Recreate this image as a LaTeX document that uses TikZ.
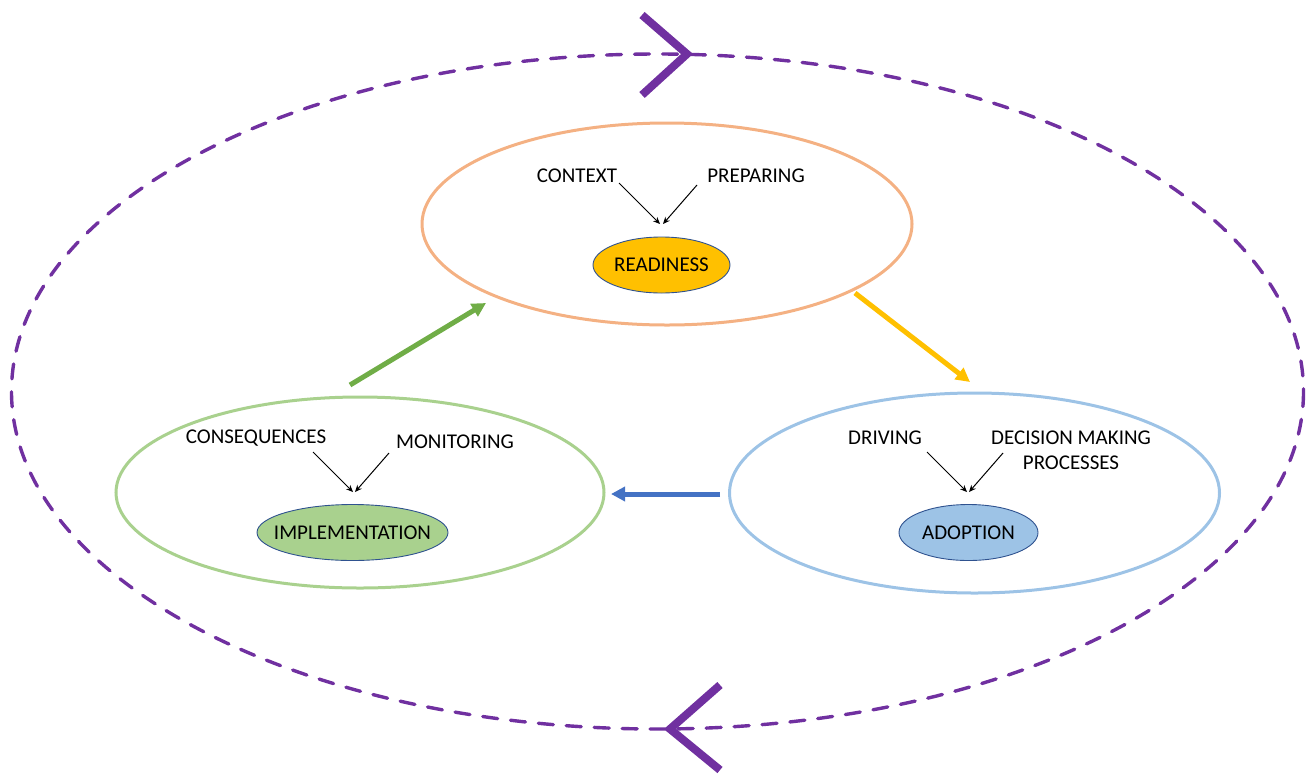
\documentclass[tikz,border=0pt]{standalone}
\usepackage{fontspec}
\setmainfont{Carlito}
\usetikzlibrary{shapes.geometric,arrows.meta}
\definecolor{cyclepurple}{HTML}{7030A0}
\definecolor{peach}{HTML}{F4B183}
\definecolor{leaf}{HTML}{A9D18E}
\definecolor{sky}{HTML}{9DC3E6}
\definecolor{gold}{HTML}{FFC000}
\definecolor{grass}{HTML}{70AD47}
\definecolor{royal}{HTML}{4472C4}
\definecolor{rim}{HTML}{2F528F}
\tikzset{
  stage/.style={ellipse, draw=#1, line width=3pt, minimum width=490pt, inner sep=0pt},
  core/.style={ellipse, draw=rim, line width=0.9pt, fill=#1, inner sep=0pt, minimum height=56pt},
  lbl/.style={inner sep=0pt, font=\fontsize{21}{25}\selectfont, align=center},
  feed/.style={-{Stealth[length=7pt,width=6pt]}, line width=1pt, black},
  flow/.style={-{Triangle[length=14pt,width=14pt]}, line width=5pt, #1},
  chevron/.style={cyclepurple, line width=8pt, miter limit=10}
}
\begin{document}
\begin{tikzpicture}[x=1pt,y=-1pt]
\useasboundingbox (0,0) rectangle (1316,774);
% outer cycle
\draw[cyclepurple, line width=3.4pt, dash pattern=on 15pt off 13pt, line cap=round] (657.5,391.5) ellipse [x radius=646, y radius=337.5];
\draw[chevron] (642,15) -- (687,54) -- (642,95);
\draw[chevron] (720,685) -- (670,729) -- (720,770);

% stage rings
\node[stage=peach, minimum height=202pt] (top) at (667,224) {};
\node[stage=leaf, minimum width=488pt, minimum height=191pt] (left) at (360,492.5) {};
\node[stage=sky, minimum height=200pt] (right) at (974.5,493) {};

% stage cores
\node[core=gold, minimum width=137pt, label={[lbl]center:READINESS}] (ready) at (661.5,265) {};
\node[core=leaf, minimum width=191pt, label={[lbl]center:IMPLEMENTATION}] (impl) at (352.5,532.5) {};
\node[core=sky, minimum width=139pt, label={[lbl]center:ADOPTION}] (adopt) at (968.5,532.5) {};

% factors
\node[lbl] (context) at (577,176) {CONTEXT};
\node[lbl] (prep) at (756,176) {PREPARING};
\node[lbl] (conseq) at (256,438) {CONSEQUENCES};
\node[lbl] (monit) at (455,442) {MONITORING};
\node[lbl] (drive) at (885,438) {DRIVING};
\node[lbl, text depth=0pt] (decide) at (1071,450) {DECISION MAKING\\PROCESSES};

% converging feeds above each core
\coordinate (rt1) at (660,224);
\coordinate (rt2) at (663,224);
\coordinate (it1) at (353,492);
\coordinate (it2) at (355,492);
\coordinate (at1) at (967,492);
\coordinate (at2) at (969,492);
\coordinate (c0) at (619,183);
\coordinate (p0) at (697,185);
\coordinate (q0) at (313,452);
\coordinate (m0) at (389,453);
\coordinate (d0) at (927,452);
\coordinate (e0) at (1003,453);

\draw[feed] (c0) -- (rt1);
\draw[feed] (p0) -- (rt2);
\draw[feed] (q0) -- (it1);
\draw[feed] (m0) -- (it2);
\draw[feed] (d0) -- (at1);
\draw[feed] (e0) -- (at2);

% cycle flow
\coordinate (g0) at (350,385);
\coordinate (g1) at (486,303);
\coordinate (y0) at (855,293);
\coordinate (y1) at (970,382);
\coordinate (b0) at (720,494);
\coordinate (b1) at (611,494);
\draw[flow=grass] (g0) -- (g1);
\draw[flow=gold] (y0) -- (y1);
\draw[flow=royal] (b0) -- (b1);
\end{tikzpicture}
\end{document}
